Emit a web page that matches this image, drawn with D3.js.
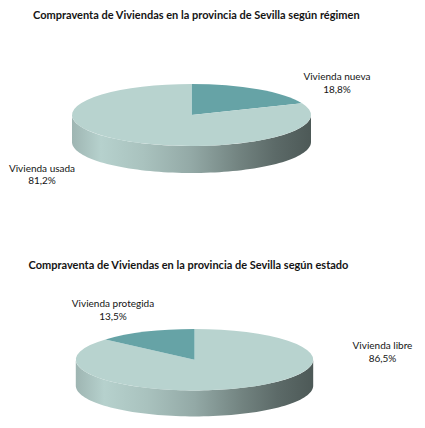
<!DOCTYPE html>
<html>
<head>
<meta charset="utf-8">
<script src="https://cdn.jsdelivr.net/npm/d3@7"></script>
<style>
  body { margin: 0; background: #fff; }
  text { font-family: Lato, "Open Sans", sans-serif; fill: #141414; }
</style>
</head>
<body>
<div id="chart"></div>
<script>
// data
var titles = ["Compraventa de Viviendas en la provincia de Sevilla según régimen",
  "Compraventa de Viviendas en la provincia de Sevilla según estado"];
var regimenLabels = ["Vivienda nueva", "Vivienda usada"];
var regimenValues = [18.8, 81.2];
var estadoLabels = ["Vivienda libre", "Vivienda protegida"];
var estadoValues = [86.5, 13.5];

// layout
const WIDTH = 425, HEIGHT = 428;
var pies = [
  { title: titles[0], labels: regimenLabels, values: regimenValues,
    colors: ["#66a3a6", "#b8d3cf"], clockwise: true,
    titleX: 33, titleY: 18.5, cx: 191.5, cy: 115, rx: 119.5, ry: 31, depth: 27,
    labelPos: [[337, 80], [42, 171.5]] },
  { title: titles[1], labels: estadoLabels, values: estadoValues,
    colors: ["#b8d3cf", "#66a3a6"], clockwise: false,
    titleX: 28.5, titleY: 269, cx: 194.5, cy: 359.7, rx: 118.7, ry: 30.7, depth: 26,
    labelPos: [[382.5, 349], [113, 307.3]] }
];

var svg = d3.select("#chart").append("svg")
  .attr("width", WIDTH).attr("height", HEIGHT);

var defs = svg.append("defs");

// side wall shading, light on the left, dark on the right
function addGradient(id, base) {
  var c = d3.color(base);
  var stops = [[0, 0.86], [0.12, 0.99], [0.3, 0.92], [0.5, 0.8], [0.7, 0.62], [0.85, 0.5], [1, 0.42]];
  var g = defs.append("linearGradient").attr("id", id)
    .attr("x1", 0).attr("x2", 1).attr("y1", 0).attr("y2", 0);
  stops.forEach(function (s) {
    var k = s[1];
    g.append("stop").attr("offset", s[0])
      .attr("stop-color", d3.rgb(c.r * k, c.g * k, c.b * k));
  });
}

var line = d3.line();

pies.forEach(function (p, i) {
  var pie = d3.pie().sort(null).value(function (d) { return d; });
  var arcs = pie(p.values);
  if (!p.clockwise) {
    // second slice sits left of twelve o'clock, first one goes round from the top
    var a = 2 * Math.PI * p.values[1] / d3.sum(p.values);
    arcs[1].startAngle = -a; arcs[1].endAngle = 0;
    arcs[0].startAngle = 0; arcs[0].endAngle = 2 * Math.PI - a;
  }

  var g = svg.append("g");

  g.append("text").attr("x", p.titleX).attr("y", p.titleY)
    .style("font-size", "11px").style("font-weight", "bold")
    .text(p.title);

  function pt(a, dy) {
    return [p.cx + p.rx * Math.sin(a), p.cy - p.ry * Math.cos(a) + dy];
  }

  // front side walls
  arcs.forEach(function (d, j) {
    var gid = "side" + i + "_" + j;
    addGradient(gid, p.colors[j]);
    var s = d.startAngle, e = d.endAngle;
    // clip each slice to the front half (90deg..270deg)
    var ranges = [[s, e], [s + 2 * Math.PI, e + 2 * Math.PI], [s - 2 * Math.PI, e - 2 * Math.PI]];
    ranges.forEach(function (r) {
      var a0 = Math.max(r[0], Math.PI / 2), a1 = Math.min(r[1], 3 * Math.PI / 2);
      if (a1 <= a0) return;
      var n = 80, top = [], bot = [];
      for (var k = 0; k <= n; k++) {
        var a = a0 + (a1 - a0) * k / n;
        top.push(pt(a, 0));
        bot.push(pt(a, p.depth));
      }
      g.append("path")
        .attr("d", line(top.concat(bot.reverse())) + "Z")
        .attr("fill", "url(#" + gid + ")");
    });
  });

  // top surface: a circle pie squashed into an ellipse
  var arc = d3.arc().innerRadius(0).outerRadius(p.rx);
  g.append("g")
    .attr("transform", "translate(" + p.cx + "," + p.cy + ") scale(1," + (p.ry / p.rx) + ")")
    .selectAll("path").data(arcs).join("path")
    .attr("d", arc)
    .attr("fill", function (d, j) { return p.colors[j]; });

  // labels
  arcs.forEach(function (d, j) {
    var t = g.append("text").attr("text-anchor", "middle")
      .attr("x", p.labelPos[j][0]).attr("y", p.labelPos[j][1])
      .style("font-size", "10px");
    t.append("tspan").attr("x", p.labelPos[j][0]).text(p.labels[j]);
    t.append("tspan").attr("x", p.labelPos[j][0]).attr("dy", 12.7)
      .text(d3.format(".1f")(p.values[j]).replace(".", ",") + "%");
  });
});
</script>
</body>
</html>
